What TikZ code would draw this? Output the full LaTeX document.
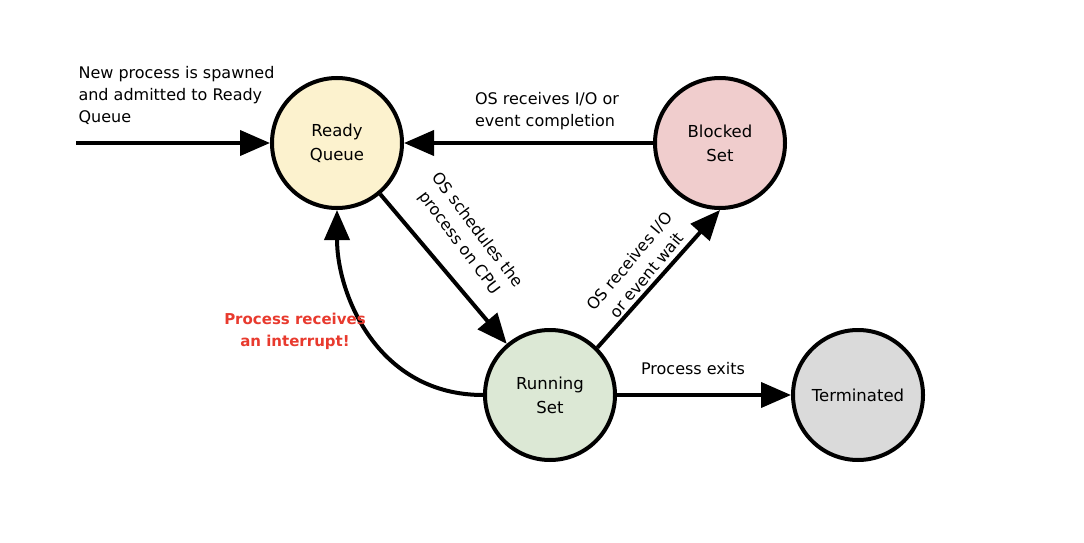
\documentclass[tikz,border=0pt]{standalone}
\usepackage{fontspec}
\setmainfont{DejaVu Sans}
\usetikzlibrary{arrows.meta}
\definecolor{readyfill}{RGB}{252,242,206}
\definecolor{blockedfill}{RGB}{240,205,205}
\definecolor{runningfill}{RGB}{220,232,213}
\definecolor{donefill}{RGB}{218,218,218}
\definecolor{alertred}{RGB}{232,58,46}
\begin{document}
\begin{tikzpicture}[x=1pt, y=1pt,
    state/.style={circle, draw=black, line width=4pt, minimum size=130pt, inner sep=0pt,
      align=center, font=\fontsize{16.5}{24}\selectfont},
    edge/.style={line width=4pt, -{Triangle[length=30pt, width=25pt]}},
    note/.style={font=\fontsize{16}{22}\selectfont}]
      \useasboundingbox (0,0) rectangle (1084,542);

      \node[state, fill=readyfill] (ready) at (337,399) {Ready\\Queue};
      \node[state, fill=blockedfill] (blocked) at (720,399) {Blocked\\Set};
      \node[state, fill=runningfill] (running) at (550,147) {Running\\Set};
      \node[state, fill=donefill] (done) at (858,147) {Terminated};
      \coordinate (spawn) at (76,399);

      \draw[edge] (spawn) -- (ready);
      \draw[edge] (blocked) -- (ready);
      \draw[edge] (ready) -- (running);
      \draw[edge] (running.45) -- (blocked.south);
      \draw[edge] (running) -- (done);
      \draw[edge] (running.west) .. controls +(-105,0) and +(0,-85) .. (ready.south);

      \node[note, align=left, anchor=west] (spawnlbl) at (75,447)
        {New process is spawned\\and admitted to Ready\\Queue};
      \node[note, align=left] (iolbl) at (547,431) {OS receives I/O or\\event completion};
      \node[note, align=center, rotate=-53] (schedlbl) at (468,305)
        {OS schedules the\\process on CPU};
      \node[note, align=center, rotate=50] (waitlbl) at (638,274)
        {OS receives I/O\\or event wait};
      \node[note, font=\fontsize{15}{22}\selectfont\bfseries, text=alertred, align=center]
        (intlbl) at (295,211) {Process receives\\an interrupt!};
      \node[note] (exitlbl) at (693,173) {Process exits};
\end{tikzpicture}
\end{document}
